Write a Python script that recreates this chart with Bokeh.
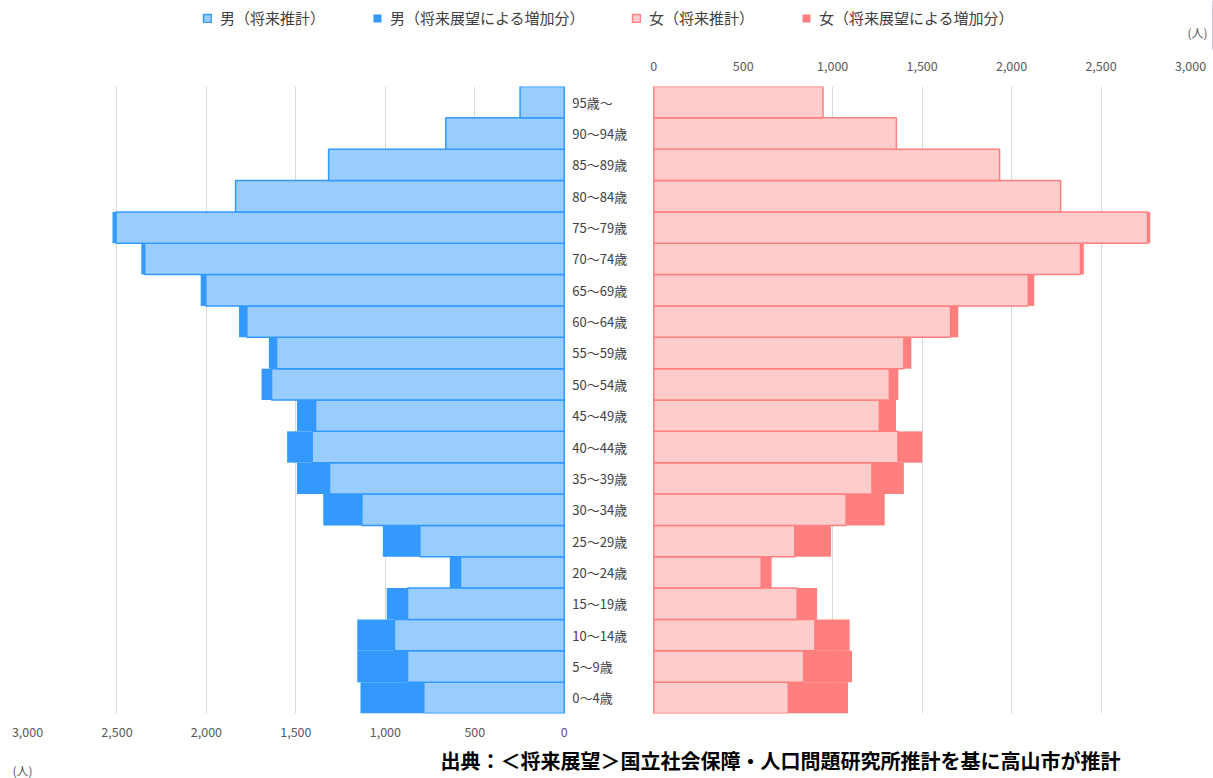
from bokeh.plotting import figure
from bokeh.layouts import column
from bokeh.models import (ColumnDataSource, Range1d, FactorRange, LinearAxis, FixedTicker,
                          NumeralTickFormatter, Grid, Legend, LegendItem, Label)
from bokeh.transform import stack
from bokeh.core.properties import value
from bokeh.embed import file_html
from bokeh.resources import INLINE

# ---------------- data ----------------
ages = ["0〜4歳", "5〜9歳", "10〜14歳", "15〜19歳", "20〜24歳", "25〜29歳", "30〜34歳",
        "35〜39歳", "40〜44歳", "45〜49歳", "50〜54歳", "55〜59歳", "60〜64歳", "65〜69歳",
        "70〜74歳", "75〜79歳", "80〜84歳", "85〜89歳", "90〜94歳", "95歳〜"]
male_base = [785, 876, 949, 876, 580, 807, 1131, 1312, 1409, 1390, 1636, 1608, 1774, 2004,
             2345, 2505, 1837, 1317, 662, 247]
male_add = [354, 281, 208, 116, 60, 207, 216, 182, 140, 104, 56, 43, 44, 28, 19, 20, 0, 0, 0, 0]
female_base = [752, 838, 901, 801, 601, 788, 1075, 1220, 1365, 1261, 1317, 1398, 1659, 2093,
               2385, 2760, 2274, 1933, 1356, 946]
female_add = [334, 270, 194, 112, 58, 203, 216, 178, 136, 93, 50, 42, 43, 34, 19, 15, 0, 0, 0, 0]
ticks = [0, 500, 1000, 1500, 2000, 2500, 3000]
legend_labels = ["男（将来推計）", "男（将来展望による増加分）", "女（将来推計）", "女（将来展望による増加分）"]
unit_label = "(人)"
source_note = "出典：＜将来展望＞国立社会保障・人口問題研究所推計を基に高山市が推計"

FONT = "Noto Sans CJK JP"
M_LIGHT, M_DARK = "#99CCFF", "#3399FF"
F_LIGHT, F_DARK = "#FFCCCC", "#FF7F7F"
W = 1213
STYLES = [dict(fill_color=M_LIGHT, line_color=M_DARK, line_width=1.5),
          dict(fill_color=M_DARK, line_color=None),
          dict(fill_color=F_LIGHT, line_color=F_DARK, line_width=1.5),
          dict(fill_color=F_DARK, line_color=None)]
LEGEND_X = [202, 372, 631, 801]   # screen position of each legend entry

src = ColumnDataSource(dict(age=ages, m_base=male_base, m_add=male_add,
                            f_base=female_base, f_add=female_add))


def blank(height, y_range=None):
    f = figure(width=W, height=height, x_range=Range1d(-2, -1),
               y_range=y_range if y_range is not None else Range1d(0, 1),
               output_backend="svg", toolbar_location=None,
               x_axis_location=None, y_axis_location=None, min_border=0)
    f.frame_align = False
    f.outline_line_color = None
    f.xgrid.visible = False
    f.ygrid.visible = False
    return f


# ---------------- header: legend + unit ----------------
header = blank(50, FactorRange(factors=ages))
# legend proxies: same data and style, lying outside the header's visible x range
leg_fields = ["m_base", "m_add", "f_base", "f_add"]
for lab, fld, st, lx in zip(legend_labels, leg_fields, STYLES, LEGEND_X):
    r = header.hbar(y="age", left=0, right=fld, height=1, source=src, **st)
    lg = Legend(items=[LegendItem(label=lab, renderers=[r])],
                orientation="horizontal", location=(lx, 22),
                glyph_width=10, glyph_height=10, label_standoff=8, spacing=0,
                padding=0, margin=0, border_line_color=None, background_fill_alpha=0,
                label_text_font_size="15px", label_text_font=FONT, label_text_color="#404040")
    header.add_layout(lg)
header.add_layout(Label(x=1197, y=18, x_units="screen", y_units="screen", text=unit_label,
                        text_align="center", text_baseline="middle", text_font_size="12px",
                        text_color="#595959", text_font=FONT))

# ---------------- main pyramid ----------------
p = figure(width=W, height=692,
           x_range=Range1d(3000, -3500),
           y_range=FactorRange(factors=ages, range_padding=0),
           output_backend="svg", toolbar_location=None,
           x_axis_location=None, y_axis_location=None,
           min_border_left=27, min_border_right=23, min_border_top=36, min_border_bottom=29)
p.frame_align = False
p.extra_x_ranges = {"right": Range1d(-3500, 3000)}
p.outline_line_color = None
p.xgrid.visible = False
p.ygrid.visible = False

for rn in ("default", "right"):
    p.add_layout(Grid(dimension=0, ticker=FixedTicker(ticks=ticks), x_range_name=rn,
                      grid_line_color="#d9d9d9", grid_line_width=1))


def make_axis(rn, standoff):
    ax = LinearAxis(x_range_name=rn, ticker=FixedTicker(ticks=ticks),
                    formatter=NumeralTickFormatter(format="0,0"))
    ax.axis_line_color = None
    ax.major_tick_line_color = None
    ax.minor_tick_line_color = None
    ax.major_label_standoff = standoff
    ax.major_label_text_font_size = "12.5px"
    ax.major_label_text_color = "#595959"
    ax.major_label_text_font = FONT
    return ax


p.add_layout(make_axis("default", 7), "below")
p.add_layout(make_axis("right", 10), "above")

p.hbar(y="age", left=stack(), right=stack("m_base"), height=1, source=src, **STYLES[0])
p.hbar(y="age", left=stack("m_base"), right=stack("m_base", "m_add"), height=1, source=src,
       **STYLES[1])
p.hbar(y="age", left=stack(), right=stack("f_base"), height=1, source=src,
       x_range_name="right", **STYLES[2])
p.hbar(y="age", left=stack("f_base"), right=stack("f_base", "f_add"), height=1, source=src,
       x_range_name="right", **STYLES[3])

p.text(x=0, y="age", text="age", source=src, x_offset=8, text_align="left",
       text_baseline="middle", text_font_size="13px", text_color="#404040",
       text_font=value(FONT))

# ---------------- footer: unit + source ----------------
footer = blank(36)
footer.add_layout(Label(x=22, y=8, x_units="screen", y_units="screen", text=unit_label,
                        text_align="center", text_baseline="middle", text_font_size="12px",
                        text_color="#595959", text_font=FONT))
footer.add_layout(Label(x=440, y=18, x_units="screen", y_units="screen", text=source_note,
                        text_align="left", text_baseline="middle", text_font_size="20px",
                        text_font_style="bold", text_color="#000000", text_font=FONT))

layout = column(header, p, footer, spacing=0)
open("out.html", "w").write(file_html(layout, INLINE))
